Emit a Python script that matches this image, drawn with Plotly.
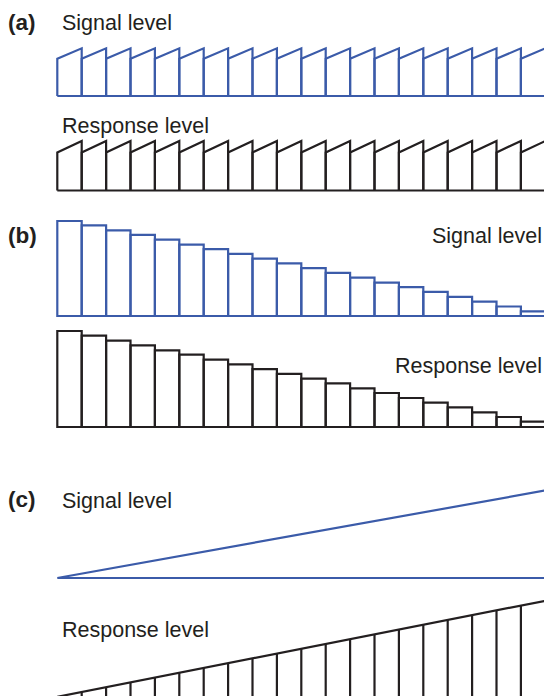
import plotly.graph_objects as go

# ---------------- data (levels in arbitrary units, blocks indexed 0..19) ----------------
blocks = list(range(20))                      # stimulus blocks
boundaries = list(range(21))                  # block boundaries

# (a) repeated ramps within each block: level at block start and block end
a_signal_start = [78] * 20
a_signal_end = [100] * 20
a_response_start = [77] * 20
a_response_end = [100] * 20

# (b) step-wise decreasing levels
b_signal = [100, 95.5, 90.2, 85.3, 80.3, 75.2, 70.3, 65.4, 60.4, 55.3, 50.4, 45.4,
            40.3, 35.2, 30.3, 25.3, 20.2, 15.2, 10.0, 4.9]
b_response = [100, 95.1, 89.9, 85.1, 79.9, 75.3, 70.2, 65.3, 60.3, 55.4, 50.4, 45.5,
              40.3, 35.4, 30.2, 25.3, 20.5, 15.3, 10.4, 5.5]

# (c) continuous ramp, sampled at block boundaries
c_signal = [0, 5, 10, 15, 20, 25, 30, 35, 40, 45, 50, 55, 60, 65, 70, 75, 80, 85, 90, 95, 100]
c_response = [0, 5, 10, 15, 20, 25, 30, 35, 40, 45, 50, 55, 60, 65, 70, 75, 80, 85, 90, 95, 100]

labels = {"a": "(a)", "b": "(b)", "c": "(c)", "sig": "Signal level", "resp": "Response level"}

# ---------------- styling / layout geometry ----------------
W, H = 544, 696
X0_PX, BLOCK_PX = 57.3, 24.4
BLUE = "#3b5ba9"
BLACK = "#231f20"
LW = 2.2
FONT = "Liberation Sans, Arial, sans-serif"
FS = 21.5

fig = go.Figure()


def ydomain(base_px, ppu, lo, hi):
    d0 = 1 - (base_px - lo * ppu) / H
    d1 = 1 - (base_px - hi * ppu) / H
    return [max(0.0, d0), min(1.0, d1)], lo if d0 >= 0 else (base_px - H) / ppu


panels = {}


def add_axis(name, base_px, ppu, lo, hi):
    dom, lo2 = ydomain(base_px, ppu, lo, hi)
    panels[name] = dict(domain=dom, range=[lo2, hi], anchor="x", visible=False,
                        fixedrange=True)


# (a) sawtooth traces
def sawtooth(starts, ends):
    xs, ys = [], []
    for i in blocks:
        xs += [i, i, i + 1, i + 1, None]
        ys += [0, starts[i], ends[i], 0, None]
    xs += [blocks[0], blocks[-1] + 1]
    ys += [0, 0]
    return xs, ys


xs, ys = sawtooth(a_signal_start, a_signal_end)
fig.add_trace(go.Scatter(x=xs, y=ys, mode="lines", line=dict(color=BLUE, width=LW),
                         yaxis="y", hoverinfo="skip"))
add_axis("yaxis", 96, 0.477, -6, 106)

xs, ys = sawtooth(a_response_start, a_response_end)
fig.add_trace(go.Scatter(x=xs, y=ys, mode="lines", line=dict(color=BLACK, width=LW),
                         yaxis="y2", hoverinfo="skip"))
add_axis("yaxis2", 190.5, 0.495, -6, 106)

# (b) bars
centers = [i + 0.5 for i in blocks]
fig.add_trace(go.Bar(x=centers, y=b_signal, width=1, marker=dict(color="rgba(0,0,0,0)",
                     line=dict(color=BLUE, width=LW)), yaxis="y3", hoverinfo="skip"))
add_axis("yaxis3", 316, 0.95, -4, 104)
fig.add_trace(go.Bar(x=centers, y=b_response, width=1, marker=dict(color="rgba(0,0,0,0)",
                     line=dict(color=BLACK, width=LW)), yaxis="y4", hoverinfo="skip"))
add_axis("yaxis4", 427, 0.96, -4, 104)

# (c) signal ramp (triangle)
fig.add_trace(go.Scatter(x=boundaries + [boundaries[-1], boundaries[0]],
                         y=c_signal + [0, 0], mode="lines",
                         line=dict(color=BLUE, width=LW), yaxis="y5", hoverinfo="skip"))
add_axis("yaxis5", 578, 0.875, -4, 104)

# (c) response ramp with stems
sx, sy = [], []
for i in boundaries[1:-1]:
    sx += [i, i, None]
    sy += [0, c_response[i], None]
fig.add_trace(go.Scatter(x=sx, y=sy, mode="lines", line=dict(color=BLACK, width=LW),
                         yaxis="y6", hoverinfo="skip"))
fig.add_trace(go.Scatter(x=boundaries, y=c_response, mode="lines",
                         line=dict(color=BLACK, width=LW), yaxis="y6", hoverinfo="skip"))
add_axis("yaxis6", 696.8, 0.96, -4, 104)

annots = []


def label(text, x_px, base_px, anchor="left", bold=False):
    fs = 22.5 if bold else FS
    annots.append(dict(text=f"<b>{text}</b>" if bold else text, xref="paper", yref="paper",
                       x=x_px / W, y=1 - (base_px + 1.5 - 0.35 * fs) / H, xanchor=anchor,
                       yanchor="middle", showarrow=False,
                       font=dict(family=FONT, size=fs, color=BLACK)))


label(labels["a"], 6, 29.3, bold=True)
label(labels["sig"], 60, 29.3)
label(labels["resp"], 60, 132)
label(labels["b"], 6, 241.5, bold=True)
label(labels["sig"], 544, 241.7, anchor="right")
label(labels["resp"], 544, 371.7, anchor="right")
label(labels["c"], 6, 506, bold=True)
label(labels["sig"], 60, 507)
label(labels["resp"], 60, 636.5)

layout = dict(
    width=W, height=H, margin=dict(l=0, r=0, t=0, b=0),
    paper_bgcolor="white", plot_bgcolor="white", showlegend=False,
    xaxis=dict(range=[-X0_PX / BLOCK_PX, (W - X0_PX) / BLOCK_PX], domain=[0, 1],
               visible=False, fixedrange=True),
    annotations=annots, barmode="overlay",
)
layout.update(panels)
fig.update_layout(**layout)
fig.write_html("out.html", config={"displayModeBar": False},
               post_script="document.body.style.margin='0';document.body.style.overflow='hidden';")
